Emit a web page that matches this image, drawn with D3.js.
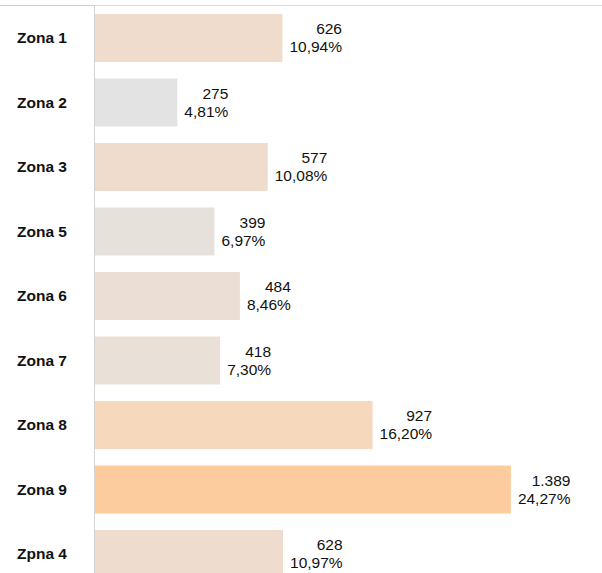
<!DOCTYPE html>
<html>
<head>
<meta charset="utf-8">
<script src="https://cdn.jsdelivr.net/npm/d3@7"></script>
<style>
html,body{margin:0;padding:0;background:#fff;}
svg{display:block;}
</style>
</head>
<body>
<svg id="chart" width="602" height="573"></svg>
<script>
const categories = ["Zona 1","Zona 2","Zona 3","Zona 5","Zona 6","Zona 7","Zona 8","Zona 9","Zpna 4"];
const values = [626, 275, 577, 399, 484, 418, 927, 1389, 628];
const percentLabels = ["10,94%","4,81%","10,08%","6,97%","8,46%","7,30%","16,20%","24,27%","10,97%"];
const valueLabels = ["626","275","577","399","484","418","927","1.389","628"];
const barColors = ["#EFDCCD","#E3E3E3","#EFDCCD","#E6E1DB","#EBDFD5","#E9E0D8","#F6D8BC","#FDCC9E","#EEDDCF"];

const svg = d3.select("#chart");
const W = 602, H = 573;
const x0 = 95;

const x = d3.scaleLinear().domain([0, 1690]).range([x0, 601]);
const y = d3.scaleBand().domain(categories).range([5.75, 586.25]).paddingInner(0.256).paddingOuter(0.128);

// bars
svg.append("g").selectAll("rect").data(categories).join("rect")
  .attr("x", x(0))
  .attr("y", d => y(d))
  .attr("width", (d,i) => x(values[i]) - x(0))
  .attr("height", y.bandwidth())
  .attr("fill", (d,i) => barColors[i]);

// top line
svg.append("line").attr("x1", 0).attr("x2", x0).attr("y1", 5.5).attr("y2", 5.5)
  .attr("stroke", "#cfcfcf").attr("stroke-width", 1);
svg.append("line").attr("x1", x0).attr("x2", W).attr("y1", 5.5).attr("y2", 5.5)
  .attr("stroke", "#dcdcdc").attr("stroke-width", 1);
// vertical axis line
svg.append("line").attr("x1", x0 - 0.5).attr("x2", x0 - 0.5).attr("y1", 5).attr("y2", H)
  .attr("stroke", "#d4d4d4").attr("stroke-width", 1);

// category labels
svg.append("g").selectAll("text").data(categories).join("text")
  .attr("x", 17)
  .attr("y", d => y(d) + y.bandwidth()/2)
  .attr("dy", "0.35em")
  .attr("font-family", "Liberation Sans, Arial, sans-serif")
  .attr("font-weight", "bold")
  .attr("font-size", "15.5px")
  .attr("fill", "#111")
  .text(d => d);

// value labels
const lab = svg.append("g");
categories.forEach((c, i) => {
  const left = x(values[i]) + 7;
  const cy = y(c) + y.bandwidth()/2;
  const pct = lab.append("text")
    .attr("x", left)
    .attr("y", cy + 9)
    .attr("dy", "0.35em")
    .attr("font-family", "Liberation Sans, Arial, sans-serif")
    .attr("font-size", "15.5px")
    .attr("fill", "#111")
    .text(percentLabels[i]);
  const w = pct.node().getComputedTextLength();
  lab.append("text")
    .attr("x", left + w)
    .attr("y", cy - 9)
    .attr("dy", "0.35em")
    .attr("text-anchor", "end")
    .attr("font-family", "Liberation Sans, Arial, sans-serif")
    .attr("font-size", "15.5px")
    .attr("fill", "#111")
    .text(valueLabels[i]);
});
</script>
</body>
</html>
